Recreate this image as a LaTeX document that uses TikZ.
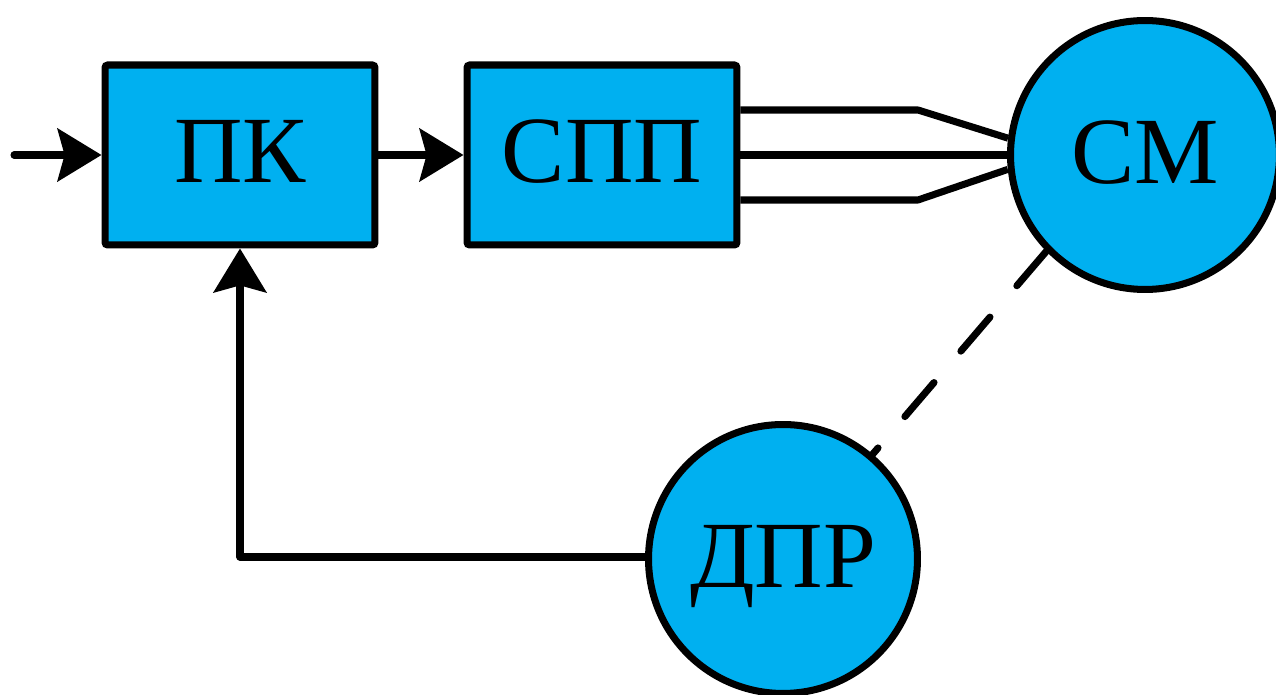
\documentclass[tikz,border=0pt]{standalone}
\usepackage{fontspec}
\setmainfont{Liberation Serif}
\usetikzlibrary{arrows.meta,calc}
\definecolor{blk}{HTML}{00B0F0}
\tikzset{
  ln/.style={line width=4pt, line cap=round, line join=round},
  arr/.style={ln, -{Stealth[length=25pt, width=30pt, inset=4pt]}},
  blockbox/.style={draw, line width=4pt, fill=blk, rounded corners=1.5pt,
    minimum width=5.4cm, minimum height=3.6cm, inner sep=0pt,
    font=\fontsize{54}{54}\selectfont, text height=35.7pt, text depth=4pt},
  roundbox/.style={draw, circle, line width=4pt, fill=blk, minimum size=5.38cm,
    inner sep=0pt, font=\fontsize{54}{54}\selectfont, text height=35.7pt, text depth=3pt},
}
\begin{document}
\begin{tikzpicture}[x=0.02cm, y=-0.02cm]
\useasboundingbox (0,0) rectangle (1276,695);
% nodes
\node[blockbox] (pk) at (240,155) {ПК};
\node[blockbox] (spp) at (602,155) {СПП};
\coordinate (in) at (14,155);
\coordinate (fb) at (240,557);
\coordinate (bt) at (918,110);
\coordinate (bb) at (918,200);
\coordinate (smlink) at (1056,240);
% dashed link (under the circles)
\node[roundbox, draw=none, fill=none] (dprpos) at (783,559) {};
\draw[line width=4pt, line cap=round,
  dash pattern=on 25.5pt off 23.5pt, dash phase=40.3pt]
  (dprpos.center) -- (smlink);
\node[roundbox] (sm) at (1145,155) {СМ};
\node[roundbox] (dpr) at (783,559) {ДПР};
% three lines to СМ
\draw[ln, line cap=butt] (spp.east |- bt) -- (bt) -- (sm.173.6);
\draw[ln, line cap=butt] (spp.east |- sm.west) -- (sm.west);
\draw[ln, line cap=butt] (spp.east |- bb) -- (bb) -- (sm.186.4);
% arrows
\draw[arr] (in) -- (pk.west |- in);
\draw[arr] (pk.east |- in) -- (spp.west |- in);
\draw[arr] (dpr.west |- fb) -- (fb) -- (pk.south);
\end{tikzpicture}
\end{document}
